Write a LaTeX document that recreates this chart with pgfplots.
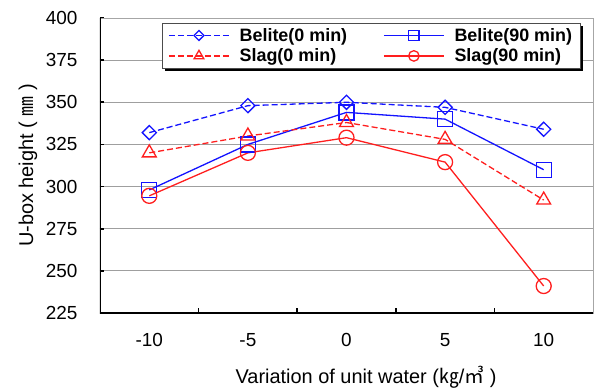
\documentclass[border=0pt]{standalone}
\usepackage{pgfplots}
\pgfplotsset{compat=1.18}
\usepackage{fontspec}
\setmainfont{Liberation Sans}
\newfontfamily\cjk{Noto Sans CJK KR}
\definecolor{myblue}{RGB}{20,20,255}
\definecolor{myred}{RGB}{255,30,30}
\begin{document}
\begin{tikzpicture}
\path[use as bounding box] (-100bp,-76bp) rectangle (497bp,313bp);
\begin{axis}[
  scale only axis,
  width=493bp, height=295bp,
  xmin=-12.5, xmax=12.5,
  ymin=225, ymax=400,
  xtick={-10,-5,0,5,10},
  ytick={225,250,...,400},
  tick pos=left,
  tick align=inside,
  xtick style={draw=none},
  ytick style={black, line width=1.6bp},
  major tick length=4bp,
  extra x ticks={-7.5,-2.5,2.5,7.5},
  extra x tick labels={},
  extra x tick style={xtick style={draw=black, line width=1.8bp}, major tick length=5bp},
  ymajorgrids,
  grid style={gray!75, line width=0.9bp},
  axis line style={gray!70, line width=0.9bp},
  /pgf/number format/assume math mode=true,
  ticklabel style={font=\fontsize{19}{22}\selectfont},
  xticklabel style={yshift=-17bp},
  yticklabel style={xshift=-19bp},
  xlabel={Variation of unit water ({\cjk ㎏}/{\cjk ㎥} )},
  ylabel={U-box height ( {\cjk ㎜} )},
  label style={font=\fontsize{20}{23}\selectfont},
  xlabel style={at={(axis description cs:0.268,-0.217)}, anchor=west},
  ylabel style={at={(axis description cs:-0.146,0.5)}, anchor=center},
  legend columns=2,
  legend cell align=left,
  legend style={
    name=leg,
    at={(axis description cs:0.126,0.983)}, anchor=north west,
    draw=gray!60!black, fill=white,
    font=\bfseries\fontsize{18}{21}\selectfont,
    row sep=2bp, inner xsep=6bp, inner ysep=3bp,
    /tikz/column 1/.style={column sep=8bp},
    /tikz/column 2/.style={column sep=34bp},
    /tikz/column 3/.style={column sep=8bp},
  },
  legend image code/.code={\draw[mark repeat=2,mark phase=2,#1, line width=1.3bp, every mark/.append style={scale=0.7}] plot coordinates {(0bp,0bp) (30bp,0bp) (60bp,0bp)};},
]
\addplot[color=myblue, line width=1.3bp, dash pattern=on 6bp off 3bp, mark=square, mark size=5bp, mark options={solid, rotate=45}]
  coordinates {(-10,332) (-5,348) (0,350) (5,347) (10,334)};
\addlegendentry{Belite(0 min)}
\addplot[color=myblue, line width=1.3bp, mark=square, mark size=7.5bp, mark options={solid}]
  coordinates {(-10,298) (-5,325) (0,344) (5,340) (10,310)};
\addlegendentry{Belite(90 min)}
\addplot[color=myred, line width=1.3bp, dash pattern=on 6bp off 3bp, mark=triangle, mark size=8bp, mark options={solid}]
  coordinates {(-10,320) (-5,330) (0,338) (5,328) (10,292)};
\addlegendentry{Slag(0 min)}
\addplot[color=myred, line width=1.3bp, mark=o, mark size=7.5bp, mark options={solid}]
  coordinates {(-10,294.5) (-5,320) (0,329) (5,314.5) (10,241)};
\addlegendentry{Slag(90 min)}
\draw[black, line width=2.2bp] (rel axis cs:0,1) -- (rel axis cs:0,0) -- (rel axis cs:1,0);
\end{axis}
\draw[black, line width=2.4bp] ([xshift=1.6bp,yshift=-3bp]leg.north east) -- ([xshift=1.6bp,yshift=-1.6bp]leg.south east) -- ([xshift=3bp,yshift=-1.6bp]leg.south west);
\end{tikzpicture}
\end{document}
